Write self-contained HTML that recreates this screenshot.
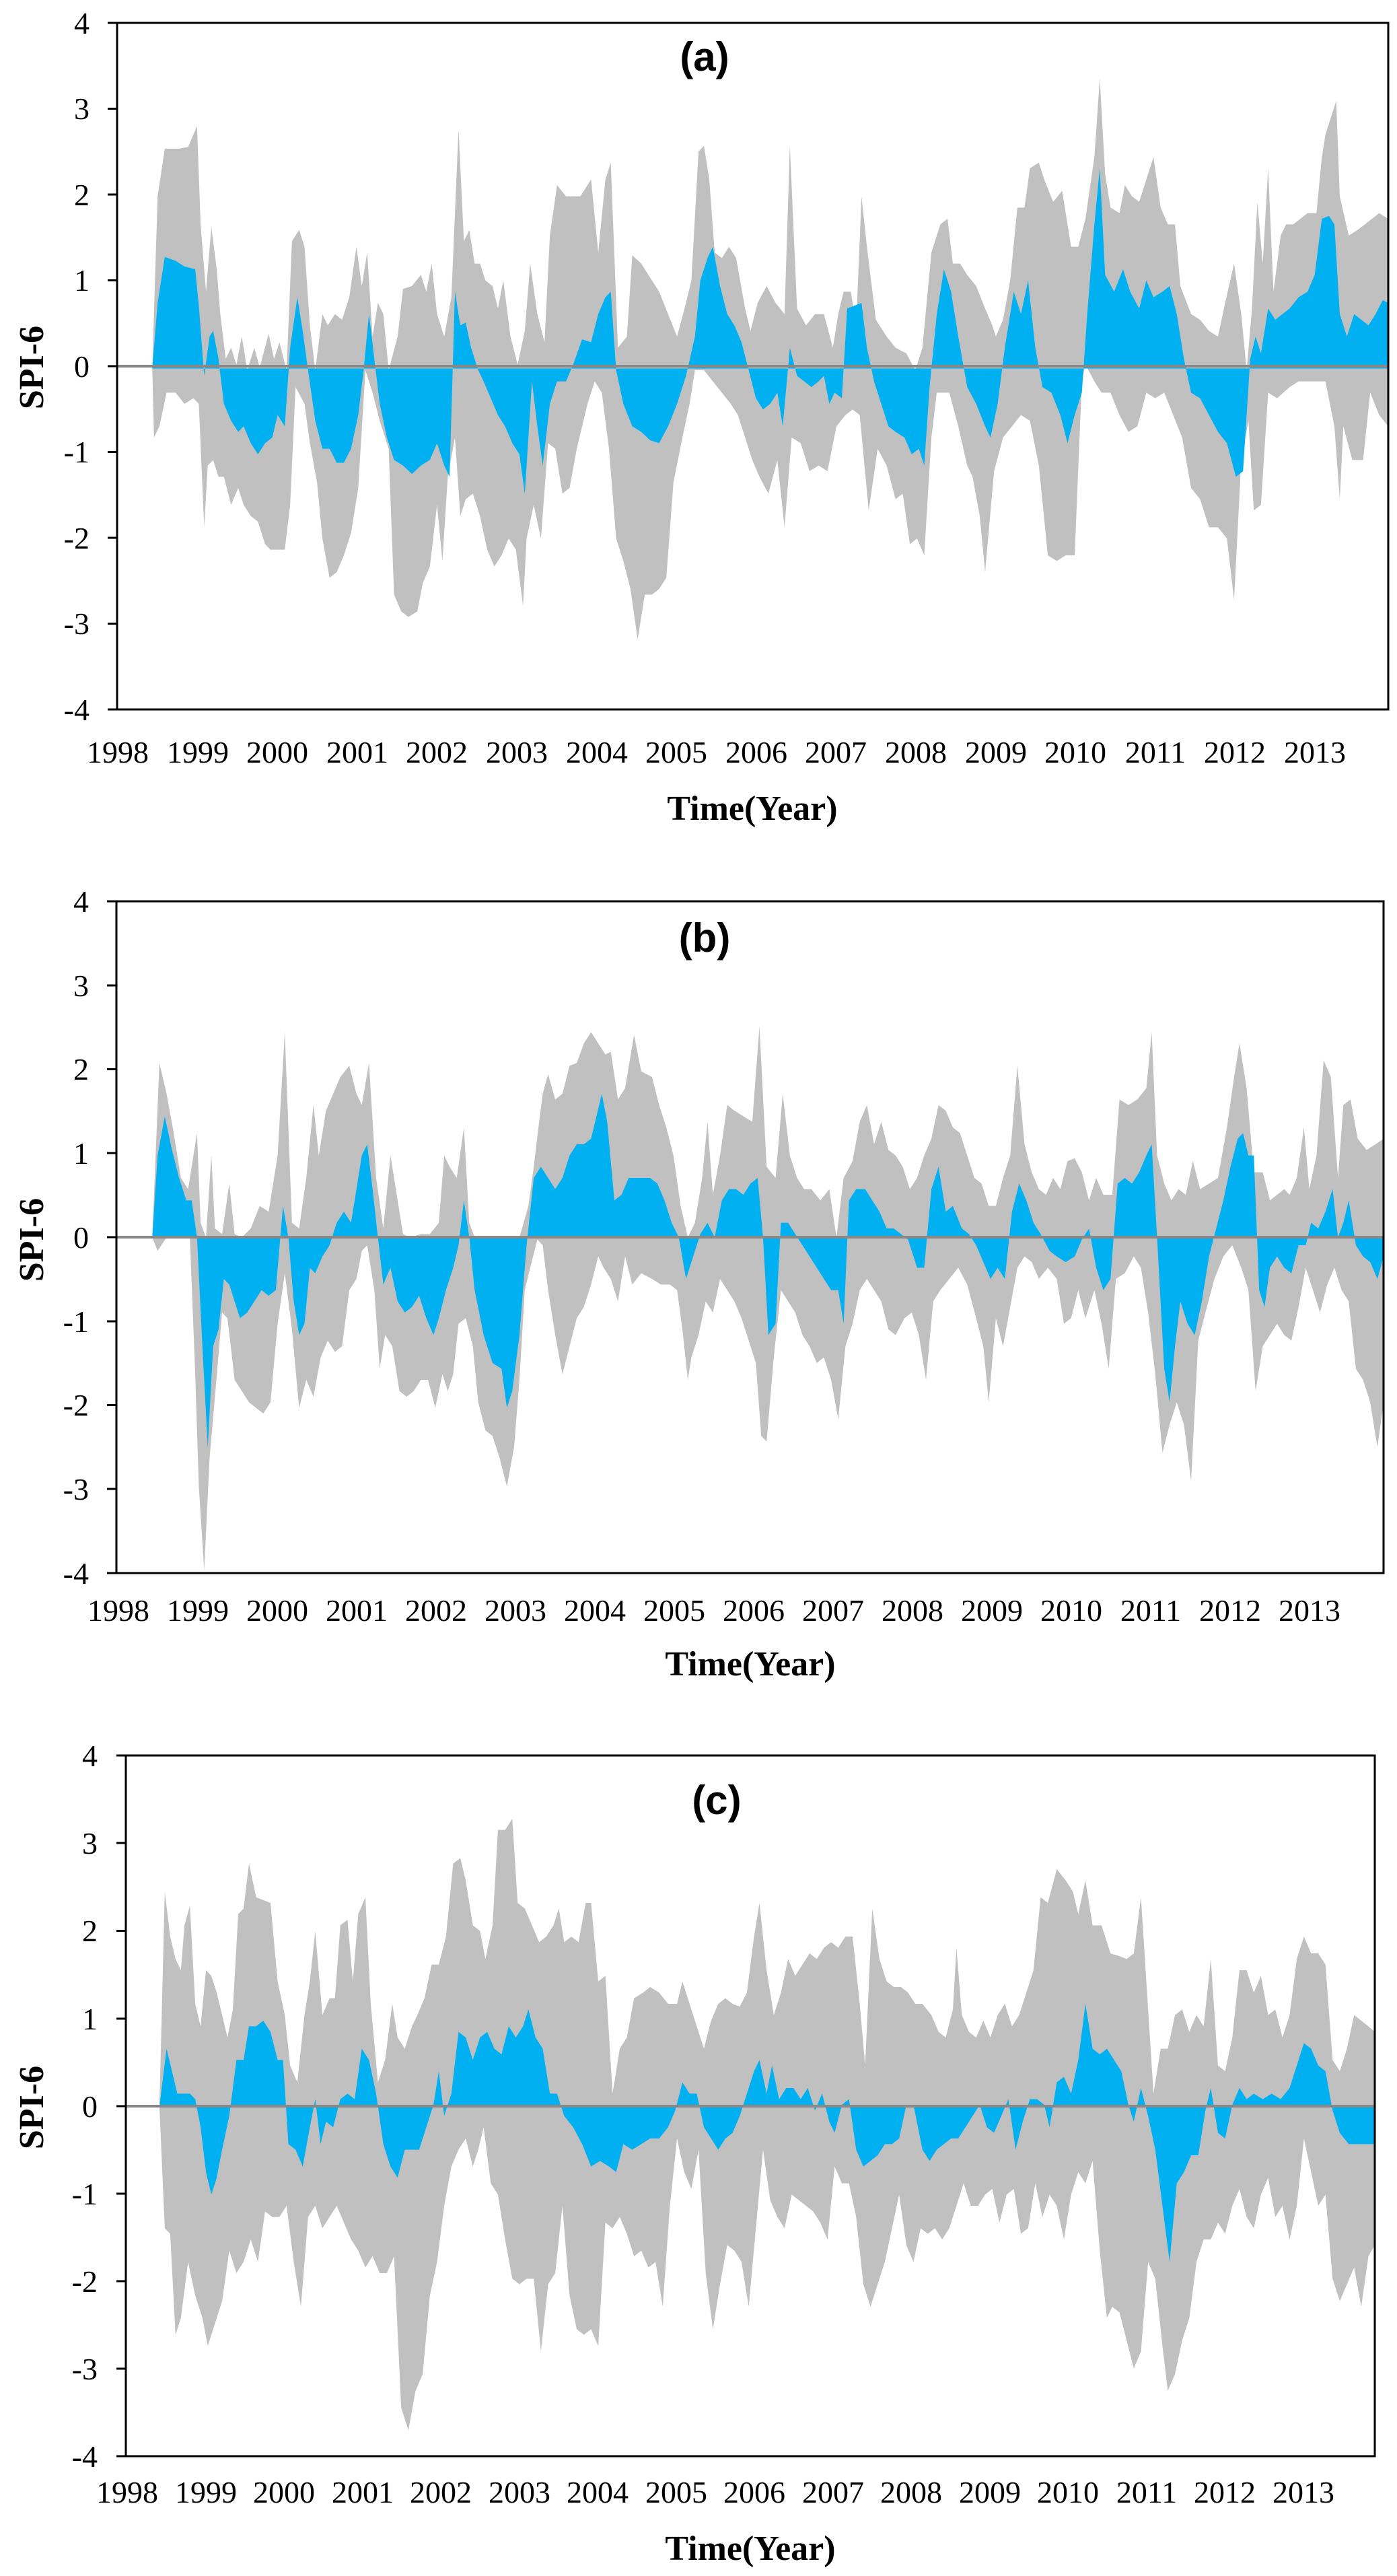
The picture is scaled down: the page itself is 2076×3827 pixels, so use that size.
<!DOCTYPE html>
<html><head><meta charset="utf-8"><style>
html,body{margin:0;padding:0;background:#fff;}
svg{display:block;}
.t{font-family:"Liberation Serif",serif;font-size:46px;fill:#000;}
.yl{font-family:"Liberation Serif",serif;font-size:46px;fill:#000;text-anchor:end;}
.ax{font-family:"Liberation Serif",serif;font-size:52px;font-weight:bold;fill:#000;text-anchor:middle;}
.ti{font-family:"Liberation Sans",sans-serif;font-size:60px;font-weight:bold;fill:#000;text-anchor:middle;}
.g{fill:#c0c0c0;}
.b{fill:#00b0f0;}
</style></head><body>
<svg width="2076" height="3827" viewBox="0 0 2076 3827" xmlns="http://www.w3.org/2000/svg">
<rect width="2076" height="3827" fill="#fff"/>

<!-- ============ PANEL A ============ -->
<g transform="translate(0,0) scale(1.33085,0.83333)">
<polygon class="g" points="170,657 176,350 184,265 200,265 210,262 220,225 224,400 230,520 236,405 242,480 246,560 252,640 258,620 264,650 270,600 276,660 284,620 290,655 300,595 306,640 312,610 320,660 326,430 334,410 340,440 346,580 352,660 360,560 366,580 374,560 382,570 390,530 398,440 404,510 410,450 416,600 422,540 428,560 434,660 444,600 450,515 460,510 470,490 476,520 482,470 488,560 496,600 504,530 512,230 518,430 524,410 530,470 536,470 542,500 550,510 556,550 562,500 570,600 578,650 586,590 592,470 600,560 608,610 614,420 622,330 632,350 648,350 660,320 668,450 676,320 682,290 690,620 700,600 706,455 716,470 726,495 736,520 746,560 756,600 766,540 772,500 780,270 786,260 792,320 798,450 806,460 814,440 822,460 832,550 838,590 846,540 856,510 866,540 876,560 882,260 890,550 900,580 910,560 920,560 930,620 936,560 942,520 950,520 956,580 962,350 968,440 978,570 990,600 1000,620 1012,630 1022,660 1030,620 1040,450 1050,400 1058,390 1064,470 1072,470 1080,490 1090,510 1100,550 1108,580 1112,600 1120,570 1128,500 1136,370 1144,370 1150,300 1160,290 1166,320 1176,360 1186,340 1196,440 1204,440 1212,390 1222,280 1228,140 1234,310 1240,370 1250,380 1256,330 1264,350 1272,360 1280,320 1288,280 1296,370 1304,400 1312,400 1318,510 1330,560 1340,570 1350,590 1360,600 1368,540 1378,470 1386,560 1392,660 1398,550 1404,360 1410,470 1416,300 1422,520 1430,420 1436,400 1444,400 1452,390 1460,380 1470,380 1476,280 1480,240 1486,210 1492,180 1496,350 1506,420 1516,410 1524,400 1532,390 1540,380 1550,390 1550,760 1540,740 1530,700 1522,820 1510,820 1500,760 1496,890 1490,760 1480,680 1470,680 1460,680 1450,680 1440,690 1426,710 1416,700 1408,900 1400,910 1394,750 1386,820 1378,1070 1370,960 1360,940 1350,940 1340,890 1330,870 1320,780 1310,740 1300,700 1290,710 1280,700 1270,760 1260,770 1250,740 1240,700 1230,700 1222,680 1212,650 1208,680 1200,990 1190,990 1180,1000 1170,990 1160,830 1150,750 1140,740 1130,760 1120,780 1110,840 1100,1020 1094,920 1086,850 1080,830 1070,760 1060,700 1046,700 1040,780 1032,990 1024,960 1016,970 1008,880 1000,890 990,830 980,800 970,910 960,740 952,730 944,740 934,760 924,840 914,830 904,840 894,790 884,780 876,940 868,820 858,880 848,850 840,820 832,780 824,740 816,720 806,700 796,680 786,660 776,660 770,720 762,780 752,860 744,1030 736,1050 728,1060 720,1060 712,1140 704,1050 696,1000 688,960 680,800 672,700 664,680 656,720 644,800 636,870 628,880 620,800 612,790 604,960 596,900 588,960 584,1080 576,980 568,960 560,990 552,1010 544,980 536,920 528,880 520,890 514,920 508,780 500,850 494,1000 488,900 480,1010 472,1040 466,1090 456,1100 448,1090 440,1060 434,800 424,750 416,700 408,660 400,870 392,950 384,990 376,1020 368,1030 360,960 354,860 346,790 340,720 330,690 324,900 318,980 310,980 302,980 296,970 288,930 280,920 272,900 266,870 258,900 250,850 244,850 238,820 232,830 228,940 222,720 216,710 206,720 196,700 186,700 178,760 172,780 170,657"/>
<polygon class="b" points="170,657 176,540 184,458 196,465 206,475 218,480 222,545 228,670 234,600 238,590 244,640 250,720 258,750 266,770 272,760 280,790 288,810 296,790 304,780 310,740 318,760 324,620 332,530 338,590 344,660 352,750 360,800 368,800 376,825 384,825 392,800 400,740 406,660 412,560 418,640 424,720 432,780 440,820 450,830 460,845 470,830 480,820 488,790 496,830 502,850 508,520 514,580 520,575 526,620 534,660 540,680 548,710 556,740 564,760 572,790 580,810 586,880 594,680 600,760 606,830 614,720 622,680 632,680 640,650 650,605 660,610 668,560 676,530 682,520 688,660 696,720 706,760 716,770 726,785 736,790 746,760 756,720 766,670 776,600 782,500 790,460 796,440 804,510 812,560 820,580 828,610 836,660 844,710 852,730 860,720 868,700 874,760 882,620 890,670 898,680 906,690 914,680 920,670 926,720 932,700 940,710 946,550 954,545 962,540 968,620 976,680 984,720 992,760 1000,770 1010,780 1018,810 1026,800 1032,830 1038,690 1046,560 1054,480 1062,520 1070,600 1080,690 1090,720 1100,760 1106,780 1114,720 1122,620 1132,520 1140,560 1148,500 1156,620 1164,690 1174,700 1184,740 1192,790 1200,740 1208,700 1214,560 1222,400 1228,300 1234,490 1244,520 1254,480 1262,520 1272,550 1280,500 1288,530 1298,520 1306,510 1314,560 1322,640 1330,700 1340,710 1350,740 1360,770 1370,790 1380,850 1388,840 1396,640 1402,600 1408,630 1416,550 1424,570 1432,560 1440,550 1450,530 1460,520 1468,490 1476,390 1484,385 1490,400 1496,560 1504,600 1512,560 1520,570 1528,580 1536,560 1544,535 1550,540 1550,657"/>
</g>
<line x1="174" y1="544" x2="2063" y2="544" stroke="#888" stroke-width="4"/>
<rect x="174" y="34" width="1889" height="1020" fill="none" stroke="#000" stroke-width="3"/>
<g stroke="#000" stroke-width="3">
<line x1="160" y1="34" x2="174" y2="34"/><line x1="160" y1="161.5" x2="174" y2="161.5"/><line x1="160" y1="289" x2="174" y2="289"/><line x1="160" y1="416.5" x2="174" y2="416.5"/><line x1="160" y1="544" x2="174" y2="544"/><line x1="160" y1="671.5" x2="174" y2="671.5"/><line x1="160" y1="799" x2="174" y2="799"/><line x1="160" y1="926.5" x2="174" y2="926.5"/><line x1="160" y1="1054" x2="174" y2="1054"/>
</g>
<g class="yl">
<text x="133" y="50">4</text><text x="133" y="177">3</text><text x="133" y="305">2</text><text x="133" y="432">1</text><text x="133" y="560">0</text><text x="133" y="687">-1</text><text x="133" y="815">-2</text><text x="133" y="942">-3</text><text x="133" y="1070">-4</text>
</g>
<g class="t" text-anchor="middle">
<text x="175" y="1133">1998</text><text x="294" y="1133">1999</text><text x="412" y="1133">2000</text><text x="531" y="1133">2001</text><text x="649" y="1133">2002</text><text x="768" y="1133">2003</text><text x="887" y="1133">2004</text><text x="1005" y="1133">2005</text><text x="1124" y="1133">2006</text><text x="1242" y="1133">2007</text><text x="1361" y="1133">2008</text><text x="1480" y="1133">2009</text><text x="1598" y="1133">2010</text><text x="1717" y="1133">2011</text><text x="1835" y="1133">2012</text><text x="1954" y="1133">2013</text>
</g>
<text class="ax" x="1118" y="1218">Time(Year)</text>
<text class="ax" transform="translate(64,546) rotate(-90)" x="0" y="0">SPI-6</text>
<text class="ti" x="1047" y="105">(a)</text>

<!-- ============ PANEL B ============ -->
<g transform="translate(0,1250) scale(1.33085,0.83333)">
<polygon class="g" points="170,706 178,395 186,450 194,520 202,600 210,620 216,560 220,520 224,680 230,706 236,560 240,690 248,700 256,610 262,700 270,706 280,690 290,650 300,660 310,560 318,340 326,680 334,690 342,600 350,470 356,560 364,480 372,450 380,420 390,400 398,450 404,470 412,395 420,600 428,690 436,560 442,620 450,700 458,706 470,700 480,700 490,680 496,560 502,580 510,600 518,510 524,680 530,706 560,706 580,706 590,650 596,580 602,500 606,450 612,415 620,460 628,450 636,400 644,395 652,360 660,340 668,360 676,380 682,375 690,460 698,440 708,345 716,410 728,420 736,470 744,510 752,560 760,650 768,706 776,680 784,600 790,500 796,630 804,560 812,470 820,480 830,490 840,500 848,330 856,580 866,600 874,450 882,560 890,600 898,620 906,620 916,640 926,620 934,706 942,600 952,570 960,500 968,470 976,540 984,500 992,550 1000,560 1008,580 1016,620 1024,600 1032,560 1040,530 1048,470 1056,480 1064,510 1072,520 1080,560 1088,600 1096,610 1104,650 1112,650 1120,600 1128,560 1136,400 1144,540 1152,590 1160,620 1168,630 1176,600 1184,620 1192,570 1200,565 1208,590 1216,640 1224,600 1232,630 1242,630 1250,460 1260,470 1270,460 1280,440 1286,340 1292,560 1300,610 1308,640 1316,620 1324,630 1332,570 1340,620 1350,610 1360,600 1370,510 1378,420 1384,360 1392,440 1400,590 1410,590 1418,640 1426,630 1434,620 1440,630 1448,600 1456,510 1462,620 1470,560 1478,390 1486,420 1494,600 1500,470 1508,460 1516,530 1526,550 1536,540 1545,530 1545,1000 1538,1080 1530,1000 1522,960 1514,940 1506,820 1498,800 1490,760 1482,790 1474,840 1466,800 1458,760 1450,830 1442,890 1434,880 1426,860 1418,880 1410,900 1402,980 1394,800 1386,760 1376,720 1366,740 1356,780 1346,840 1338,890 1330,1140 1322,1040 1314,1000 1306,1040 1298,1090 1290,950 1282,840 1274,760 1266,740 1256,770 1246,780 1238,940 1230,860 1222,800 1212,850 1204,800 1196,850 1188,860 1180,780 1170,760 1160,780 1152,750 1144,740 1136,760 1128,830 1120,900 1112,850 1104,1000 1098,900 1090,850 1080,790 1070,760 1060,780 1050,800 1042,820 1034,960 1026,880 1018,840 1010,850 1000,880 992,870 984,820 976,800 968,780 960,800 952,860 944,900 936,1030 928,960 920,920 912,930 904,900 896,880 888,840 880,820 872,800 864,920 856,1070 850,1060 844,930 836,890 828,850 820,820 812,800 804,780 796,840 788,820 780,880 772,920 768,960 762,870 756,800 748,790 738,790 728,780 716,770 706,790 698,740 690,820 682,780 674,760 668,740 660,790 652,830 644,850 636,900 628,950 620,880 612,800 606,720 600,710 592,760 586,800 580,960 574,1080 566,1150 558,1100 550,1060 542,1050 534,1000 528,900 520,850 512,860 506,950 500,980 494,950 486,1010 478,960 470,960 462,980 454,990 446,980 438,900 430,880 424,940 418,800 410,720 404,730 398,780 390,800 382,900 374,910 366,890 358,920 350,990 342,960 334,1010 326,870 318,770 310,860 302,1000 294,1020 286,1010 278,1000 270,980 262,960 254,850 248,840 240,990 234,1100 228,1300 222,1150 218,950 212,706 200,706 186,706 176,730 170,706"/>
<polygon class="b" points="170,706 176,560 184,490 192,550 200,600 208,640 214,640 220,706 226,900 232,1080 238,900 244,870 250,780 256,790 262,820 268,850 276,840 284,820 292,800 300,810 308,800 316,650 322,706 328,820 334,880 340,860 346,760 352,770 360,740 368,720 376,680 384,660 392,680 398,620 404,560 410,540 416,620 422,706 428,790 436,760 444,820 452,840 460,830 468,810 476,850 484,880 490,850 498,800 506,760 512,720 518,640 524,706 530,800 540,880 550,930 560,940 566,1010 572,980 580,880 588,720 596,600 604,580 612,600 620,620 628,600 636,560 644,540 652,540 660,530 666,490 672,450 678,500 686,640 694,630 702,600 710,600 718,600 726,600 734,610 742,640 750,680 758,706 766,780 774,740 782,700 790,680 798,706 806,640 814,620 822,620 830,630 838,610 846,600 852,706 858,880 866,860 872,680 880,680 888,700 896,720 904,740 912,760 920,780 928,800 936,800 942,860 948,640 956,620 966,620 974,640 982,660 990,690 998,690 1006,700 1014,710 1024,760 1032,760 1040,620 1048,580 1056,660 1064,650 1074,690 1082,700 1090,720 1098,750 1106,780 1114,760 1122,780 1130,660 1138,610 1146,640 1154,680 1162,700 1172,730 1180,740 1190,750 1200,740 1208,710 1216,690 1224,760 1232,800 1240,780 1248,610 1256,600 1264,610 1272,590 1280,560 1286,540 1292,706 1300,940 1306,1000 1312,900 1318,820 1326,860 1334,880 1342,820 1350,740 1358,690 1366,640 1374,580 1382,530 1388,520 1394,560 1400,560 1406,800 1412,830 1418,760 1426,740 1434,760 1442,770 1450,720 1458,720 1464,680 1472,690 1480,660 1488,620 1494,706 1500,680 1506,640 1514,720 1522,740 1530,750 1538,780 1545,740 1545,706"/>
</g>
<line x1="173" y1="1838" x2="2056" y2="1838" stroke="#888" stroke-width="4"/>
<rect x="173" y="1339" width="1883" height="998" fill="none" stroke="#000" stroke-width="3"/>
<g stroke="#000" stroke-width="3">
<line x1="159" y1="1339" x2="173" y2="1339"/><line x1="159" y1="1464" x2="173" y2="1464"/><line x1="159" y1="1588.5" x2="173" y2="1588.5"/><line x1="159" y1="1713" x2="173" y2="1713"/><line x1="159" y1="1838" x2="173" y2="1838"/><line x1="159" y1="1963" x2="173" y2="1963"/><line x1="159" y1="2087.5" x2="173" y2="2087.5"/><line x1="159" y1="2212" x2="173" y2="2212"/><line x1="159" y1="2337" x2="173" y2="2337"/>
</g>
<g class="yl">
<text x="132" y="1355">4</text><text x="132" y="1480">3</text><text x="132" y="1604">2</text><text x="132" y="1729">1</text><text x="132" y="1854">0</text><text x="132" y="1979">-1</text><text x="132" y="2103">-2</text><text x="132" y="2228">-3</text><text x="132" y="2353">-4</text>
</g>
<g class="t" text-anchor="middle">
<text x="176" y="2408">1998</text><text x="294" y="2408">1999</text><text x="412" y="2408">2000</text><text x="530" y="2408">2001</text><text x="648" y="2408">2002</text><text x="766" y="2408">2003</text><text x="884" y="2408">2004</text><text x="1002" y="2408">2005</text><text x="1120" y="2408">2006</text><text x="1238" y="2408">2007</text><text x="1356" y="2408">2008</text><text x="1474" y="2408">2009</text><text x="1592" y="2408">2010</text><text x="1710" y="2408">2011</text><text x="1828" y="2408">2012</text><text x="1946" y="2408">2013</text>
</g>
<text class="ax" x="1115" y="2489">Time(Year)</text>
<text class="ax" transform="translate(64,1842) rotate(-90)" x="0" y="0">SPI-6</text>
<text class="ti" x="1047" y="1414">(b)</text>

<!-- ============ PANEL C ============ -->
<g transform="translate(0,2527) scale(1.33085,0.83333)">
<polygon class="g" points="178,723 184,340 190,420 196,460 202,480 206,400 212,365 218,540 224,580 230,480 236,490 242,520 248,560 254,600 260,550 266,380 272,370 278,290 286,350 294,355 302,360 310,500 318,560 324,650 332,680 340,560 346,500 352,410 360,560 368,530 374,530 380,400 388,390 394,500 400,380 408,350 414,540 422,680 430,640 438,540 444,600 452,620 460,580 466,560 474,530 482,470 490,470 498,420 506,290 514,280 520,320 528,400 536,410 542,460 550,400 556,230 564,230 572,210 578,360 586,370 594,400 602,430 610,420 618,400 624,370 630,430 638,420 646,430 654,360 660,360 668,500 676,490 684,700 692,620 700,600 708,530 718,520 726,510 736,520 746,540 756,540 762,500 770,540 778,580 786,620 794,570 802,540 810,530 818,540 826,545 834,520 842,420 848,360 856,480 864,560 872,520 880,460 888,490 896,470 904,450 912,460 920,440 928,430 936,440 944,420 952,420 960,540 966,650 974,370 982,460 990,500 998,510 1006,510 1014,520 1022,540 1030,540 1040,560 1048,590 1056,600 1064,550 1068,440 1074,560 1082,590 1090,600 1098,570 1106,600 1114,560 1122,540 1130,580 1138,560 1146,520 1154,480 1162,350 1170,360 1180,300 1190,320 1198,340 1204,380 1212,320 1220,400 1230,400 1240,450 1250,455 1258,460 1266,450 1274,350 1280,500 1288,700 1296,620 1304,620 1312,560 1320,550 1328,590 1336,560 1344,580 1352,460 1360,650 1368,660 1376,600 1384,480 1392,480 1400,520 1408,490 1416,560 1424,550 1432,600 1440,560 1448,460 1456,420 1464,450 1472,450 1480,470 1488,640 1496,660 1504,620 1512,560 1520,570 1528,580 1535,590 1535,970 1528,990 1520,1080 1512,1010 1504,1040 1496,1070 1488,1030 1480,880 1472,900 1464,840 1456,780 1448,900 1440,960 1432,900 1424,920 1416,850 1408,880 1400,940 1392,920 1384,870 1376,900 1368,950 1360,930 1352,960 1344,960 1336,1000 1328,1100 1320,1140 1312,1200 1304,1230 1298,1150 1290,1030 1282,1000 1274,1160 1266,1190 1258,1140 1250,1090 1242,1080 1236,1100 1228,980 1220,820 1212,860 1204,840 1196,880 1188,960 1180,900 1172,880 1164,920 1156,860 1148,940 1140,950 1132,870 1124,880 1116,930 1108,870 1100,880 1092,900 1084,900 1076,860 1068,900 1060,940 1052,960 1044,940 1036,950 1028,940 1020,1000 1012,970 1004,880 996,940 988,1000 980,1040 972,1080 964,1040 956,920 948,860 940,860 932,830 924,960 916,930 908,910 900,900 892,890 884,880 876,940 868,920 860,890 852,800 844,940 836,1080 828,1000 820,980 812,970 804,1040 796,1120 788,1020 780,800 772,870 764,840 756,780 748,900 740,1080 732,1000 724,1010 716,980 708,990 700,950 692,920 684,940 676,930 668,1150 660,1120 652,1130 644,1120 636,1060 628,900 620,1020 612,1040 604,1160 596,1030 588,1030 580,1040 572,1030 564,960 556,880 548,860 540,760 534,800 528,830 520,780 512,800 504,830 496,900 488,1000 480,1060 472,1200 464,1230 456,1300 448,1260 440,990 432,1020 424,1020 416,990 408,1010 400,980 392,960 384,930 376,900 368,920 360,940 352,900 344,920 336,1080 328,1000 320,900 312,920 304,920 296,910 288,1000 280,960 272,1000 264,1020 256,980 248,1070 240,1110 232,1150 226,1100 218,1060 210,1000 202,1100 196,1130 190,950 184,940 178,723"/>
<polygon class="b" points="178,723 186,620 192,660 198,700 204,700 212,700 218,710 224,760 230,840 236,880 242,850 248,800 256,740 264,640 272,640 278,580 286,580 294,570 302,590 310,640 316,640 322,790 330,800 338,830 346,760 352,710 358,790 364,750 372,760 380,710 388,700 396,710 404,620 412,640 420,700 428,790 436,830 444,850 452,800 460,800 468,800 476,760 484,720 490,660 496,740 504,700 512,590 520,600 528,640 536,600 544,590 552,620 560,630 568,580 576,600 584,580 590,550 598,600 606,620 614,700 622,700 630,740 640,760 650,790 660,830 670,820 680,830 688,840 696,790 706,800 716,790 726,780 736,780 746,760 754,730 762,680 770,700 778,700 786,760 794,780 802,800 810,780 818,770 826,740 834,700 842,660 848,640 856,700 862,650 870,710 878,690 886,690 894,710 902,690 910,730 918,700 926,750 932,770 940,720 948,710 956,800 964,830 972,820 980,810 988,790 996,790 1004,780 1012,720 1020,720 1030,800 1038,820 1046,800 1054,790 1062,780 1070,780 1078,760 1086,740 1094,720 1102,760 1110,770 1118,740 1126,710 1134,800 1142,750 1150,710 1158,710 1166,720 1172,760 1180,680 1188,670 1196,700 1204,640 1212,540 1220,620 1228,630 1236,620 1244,640 1252,660 1260,720 1266,750 1274,690 1282,740 1290,800 1298,900 1306,1000 1314,860 1322,840 1330,810 1338,810 1346,730 1352,690 1360,770 1368,780 1376,720 1384,690 1392,710 1400,700 1410,710 1420,700 1430,710 1440,690 1448,650 1456,610 1464,620 1472,650 1480,660 1488,730 1496,770 1506,790 1516,790 1526,790 1535,790 1535,723"/>
</g>
<line x1="187" y1="3129" x2="2043" y2="3129" stroke="#888" stroke-width="4"/>
<rect x="187" y="2608" width="1856" height="1041" fill="none" stroke="#000" stroke-width="3"/>
<g stroke="#000" stroke-width="3">
<line x1="173" y1="2608" x2="187" y2="2608"/><line x1="173" y1="2738" x2="187" y2="2738"/><line x1="173" y1="2868.5" x2="187" y2="2868.5"/><line x1="173" y1="2999" x2="187" y2="2999"/><line x1="173" y1="3129" x2="187" y2="3129"/><line x1="173" y1="3259" x2="187" y2="3259"/><line x1="173" y1="3389" x2="187" y2="3389"/><line x1="173" y1="3519" x2="187" y2="3519"/><line x1="173" y1="3649" x2="187" y2="3649"/>
</g>
<g class="yl">
<text x="145" y="2624">4</text><text x="145" y="2754">3</text><text x="145" y="2884">2</text><text x="145" y="3015">1</text><text x="145" y="3145">0</text><text x="145" y="3275">-1</text><text x="145" y="3405">-2</text><text x="145" y="3535">-3</text><text x="145" y="3665">-4</text>
</g>
<g class="t" text-anchor="middle">
<text x="189" y="3718">1998</text><text x="306" y="3718">1999</text><text x="422" y="3718">2000</text><text x="539" y="3718">2001</text><text x="655" y="3718">2002</text><text x="772" y="3718">2003</text><text x="888" y="3718">2004</text><text x="1005" y="3718">2005</text><text x="1121" y="3718">2006</text><text x="1238" y="3718">2007</text><text x="1354" y="3718">2008</text><text x="1471" y="3718">2009</text><text x="1587" y="3718">2010</text><text x="1704" y="3718">2011</text><text x="1820" y="3718">2012</text><text x="1937" y="3718">2013</text>
</g>
<text class="ax" x="1115" y="3803">Time(Year)</text>
<text class="ax" transform="translate(64,3131) rotate(-90)" x="0" y="0">SPI-6</text>
<text class="ti" x="1065" y="2695">(c)</text>
</svg>
</body></html>
